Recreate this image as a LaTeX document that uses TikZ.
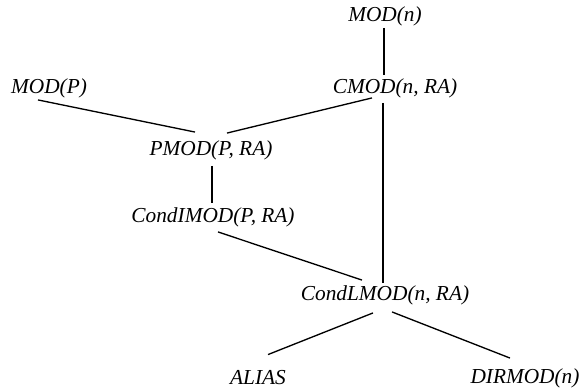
\documentclass[tikz,border=0pt]{standalone}
\usepackage{fontspec}
\setmainfont{Liberation Serif}
\usetikzlibrary{calc}
\begin{document}
\begin{tikzpicture}[x=0.75pt,y=-0.75pt,
  lbl/.style={inner sep=0pt,font=\fontsize{16}{19}\selectfont\itshape},
  edge/.style={line width=1pt}]
\useasboundingbox (0,0) rectangle (582,388);
\node[lbl] (mn) at (385,16) {MOD(n)};
\node[lbl] (cm) at (395,88) {CMOD(n, RA)};
\node[lbl] (mp) at (49,88) {MOD(P)};
\node[lbl] (pm) at (211,150) {PMOD(P, RA)};
\node[lbl] (ci) at (213,217) {CondIMOD(P, RA)};
\node[lbl] (cl) at (385,295) {CondLMOD(n, RA)};
\node[lbl] (al) at (258,378) {ALIAS};
\node[lbl] (dm) at (525,378) {DIRMOD(n)};
\draw[edge] ($(mn.south)+(-1,2)$) -- ($(cm.north)+(-11,-3)$);
\draw[edge] ($(mp.south)+(-11,2)$) -- ($(pm.north)+(-16,-8)$);
\draw[edge] ($(cm.south)+(-23,0)$) -- ($(pm.north)+(16,-7)$);
\draw[edge] ($(cm.south)+(-12,5)$) -- ($(cl.north)+(-2,-2)$);
\draw[edge] ($(pm.south)+(1,6)$) -- ($(ci.north)+(-1,-4)$);
\draw[edge] ($(ci.south)+(5,5)$) -- ($(cl.north)+(-23,-5)$);
\draw[edge] ($(cl.south)+(-12,8)$) -- ($(al.north)+(10,-16)$);
\draw[edge] ($(cl.south)+(7,7)$) -- ($(dm.north)+(-15,-10)$);
\end{tikzpicture}
\end{document}
